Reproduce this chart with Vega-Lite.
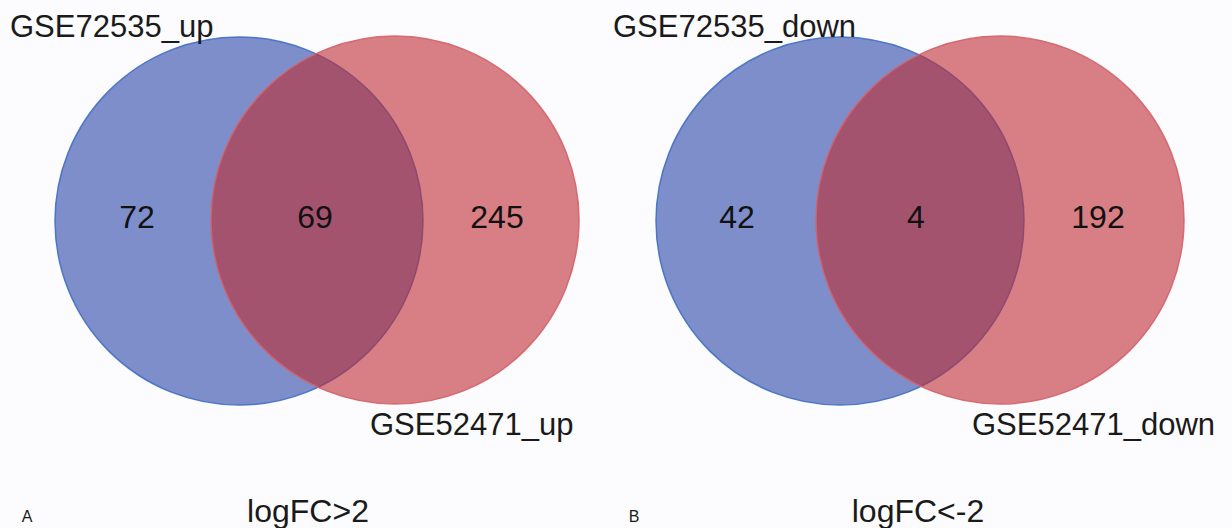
{
  "$schema": "https://vega.github.io/schema/vega-lite/v6.json",
  "autosize": {"type": "none"},
  "width": 1232,
  "height": 528,
  "padding": 0,
  "background": "#fcfcfe",
  "config": {"view": {"stroke": null}},
  "datasets": {
    "circles": [
      {"panel": "A", "set": "GSE72535", "cx": 239, "cy": 221},
      {"panel": "A", "set": "GSE52471", "cx": 395, "cy": 220},
      {"panel": "B", "set": "GSE72535", "cx": 840, "cy": 221},
      {"panel": "B", "set": "GSE52471", "cx": 1000, "cy": 220}
    ],
    "setLabels": [
      {"panel": "A", "label": "GSE72535_up", "lx": 10, "ly": 37},
      {"panel": "A", "label": "GSE52471_up", "lx": 370, "ly": 435},
      {"panel": "B", "label": "GSE72535_down", "lx": 613, "ly": 37},
      {"panel": "B", "label": "GSE52471_down", "lx": 972, "ly": 435}
    ],
    "counts": [
      {"panel": "A", "region": "GSE72535 only", "count": 72, "lx": 137, "ly": 218},
      {"panel": "A", "region": "both", "count": 69, "lx": 315, "ly": 218},
      {"panel": "A", "region": "GSE52471 only", "count": 245, "lx": 497, "ly": 218},
      {"panel": "B", "region": "GSE72535 only", "count": 42, "lx": 737, "ly": 218},
      {"panel": "B", "region": "both", "count": 4, "lx": 916, "ly": 218},
      {"panel": "B", "region": "GSE52471 only", "count": 192, "lx": 1098, "ly": 218}
    ],
    "panelLetters": [
      {"panel": "A", "lx": 27, "ly": 522},
      {"panel": "B", "lx": 634, "ly": 522}
    ],
    "captions": [
      {"panel": "A", "caption": "logFC>2", "lx": 308, "ly": 522},
      {"panel": "B", "caption": "logFC<-2", "lx": 918, "ly": 522}
    ]
  },
  "layer": [
    {
      "data": {"name": "circles"},
      "mark": {"type": "point", "shape": "circle", "filled": true, "size": 135424, "fillOpacity": 0.6, "strokeWidth": 1.5, "strokeOpacity": 0.9},
      "encoding": {
        "x": {"field": "cx", "type": "quantitative", "scale": {"domain": [0, 1232], "nice": false, "zero": false}, "axis": null},
        "y": {"field": "cy", "type": "quantitative", "scale": {"domain": [0, 528], "nice": false, "zero": false, "reverse": true}, "axis": null},
        "fill": {"field": "set", "type": "nominal", "scale": {"domain": ["GSE72535", "GSE52471"], "range": ["#2a44a8", "#be2b32"]}, "legend": null},
        "stroke": {"field": "set", "type": "nominal", "scale": {"domain": ["GSE72535", "GSE52471"], "range": ["#3f6fc4", "#d4626a"]}, "legend": null},
        "order": {"field": "cy", "type": "quantitative", "sort": "descending"}
      }
    },
    {
      "data": {"name": "setLabels"},
      "mark": {"type": "text", "align": "left", "baseline": "alphabetic", "font": "Liberation Sans", "fontSize": 31, "color": "#1a1a1a"},
      "encoding": {
        "x": {"field": "lx", "type": "quantitative"},
        "y": {"field": "ly", "type": "quantitative"},
        "text": {"field": "label"}
      }
    },
    {
      "data": {"name": "counts"},
      "mark": {"type": "text", "align": "center", "baseline": "middle", "font": "Liberation Sans", "fontSize": 32, "color": "#111111"},
      "encoding": {
        "x": {"field": "lx", "type": "quantitative"},
        "y": {"field": "ly", "type": "quantitative"},
        "text": {"field": "count", "type": "quantitative"}
      }
    },
    {
      "data": {"name": "panelLetters"},
      "mark": {"type": "text", "align": "center", "baseline": "alphabetic", "font": "Liberation Sans", "fontSize": 16, "color": "#1a1a1a"},
      "encoding": {
        "x": {"field": "lx", "type": "quantitative"},
        "y": {"field": "ly", "type": "quantitative"},
        "text": {"field": "panel"}
      }
    },
    {
      "data": {"name": "captions"},
      "mark": {"type": "text", "align": "center", "baseline": "alphabetic", "font": "Liberation Sans", "fontSize": 32, "color": "#1a1a1a"},
      "encoding": {
        "x": {"field": "lx", "type": "quantitative"},
        "y": {"field": "ly", "type": "quantitative"},
        "text": {"field": "caption"}
      }
    }
  ]
}
